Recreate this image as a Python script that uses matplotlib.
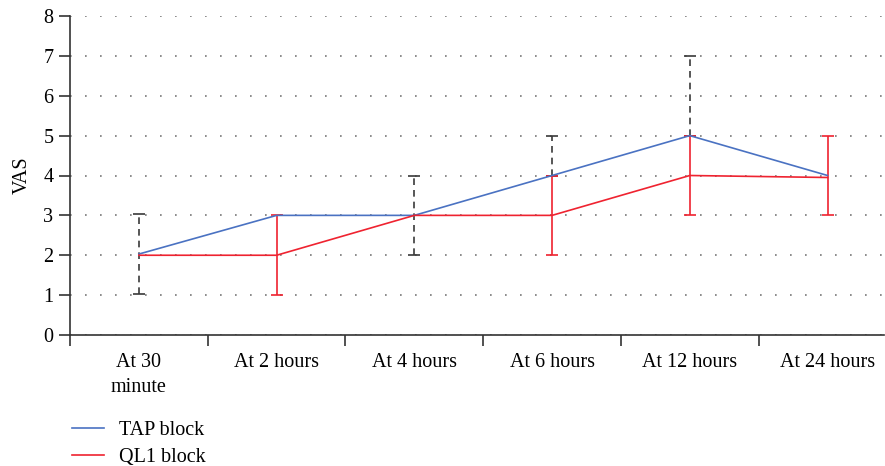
import matplotlib.pyplot as plt
import numpy as np

# --- Data ---
times = ["At 30\nminute", "At 2 hours", "At 4 hours", "At 6 hours", "At 12 hours", "At 24 hours"]
tap_vas = [2.03, 3, 3, 4, 5, 4]
# None = no error bar drawn at that time point
tap_err_low = [1, None, 1, 0, 0, None]
tap_err_high = [1, None, 1, 1, 2, None]
ql1_vas = [2, 2, 3, 3, 4, 3.95]
ql1_err_low = [None, 1, None, 1, 1, 0.95]
ql1_err_high = [None, 1, None, 1, 1, 1.05]

plt.rcParams['font.family'] = ['Liberation Serif', 'DejaVu Serif']
plt.rcParams['font.size'] = 14.5

blue = '#4a72c2'
red = '#ef2330'
axis_col = '#333333'

fig = plt.figure(figsize=(8.85, 4.66), dpi=100)
ax = fig.add_axes([70 / 885, 1 - 335 / 466, 814 / 885, 319 / 466])

x = np.arange(len(times))


def draw_err(vals, low, high, color, dashed, z):
    idx = [i for i in range(len(vals)) if low[i] is not None]
    eb = ax.errorbar([x[i] for i in idx], [vals[i] for i in idx],
                     yerr=[[low[i] for i in idx], [high[i] for i in idx]],
                     fmt='none', ecolor=color, elinewidth=1.2, capsize=4.3,
                     capthick=1.2, zorder=z)
    if dashed:
        eb[2][0].set_linestyle((0, (4, 3)))


# --- error bars ---
draw_err(tap_vas, tap_err_low, tap_err_high, '#3a3a3a', True, 2)
draw_err(ql1_vas, ql1_err_low, ql1_err_high, red, False, 3)

# --- lines ---
tap_line, = ax.plot(x, tap_vas, color=blue, linewidth=1.2, zorder=4, label='TAP block')
ql1_line, = ax.plot(x, ql1_vas, color=red, linewidth=1.2, zorder=4, label='QL1 block')

# --- axes ---
ax.set_xlim(-0.5, 5.41)
ax.set_ylim(0, 8)
ax.set_yticks(range(0, 9))
ax.set_xticks(x)
ax.set_xticklabels(times, linespacing=1.45)
ax.set_xticks(np.arange(-0.5, 5.5, 1), minor=True)
ax.tick_params(axis='x', which='major', length=0, pad=13)
ax.tick_params(axis='x', which='minor', length=8, width=1.2, color=axis_col, direction='out')
ax.tick_params(axis='y', length=8, width=1.2, color=axis_col, pad=4)
ax.set_ylabel("VAS", labelpad=8)

ax.yaxis.grid(True, linestyle=(0, (1, 8)), color='#777777', linewidth=1.2)
ax.set_axisbelow(True)
for side in ['top', 'right']:
    ax.spines[side].set_visible(False)
for side in ['left', 'bottom']:
    ax.spines[side].set_color(axis_col)
    ax.spines[side].set_linewidth(1.2)

fig.legend(handles=[tap_line, ql1_line], loc='upper left',
           bbox_to_anchor=(56 / 885, 1 - 405 / 466), frameon=False,
           handlelength=1.6, handletextpad=0.75, labelspacing=0.4, borderpad=0.3)

fig.savefig("out.png", dpi=100)
